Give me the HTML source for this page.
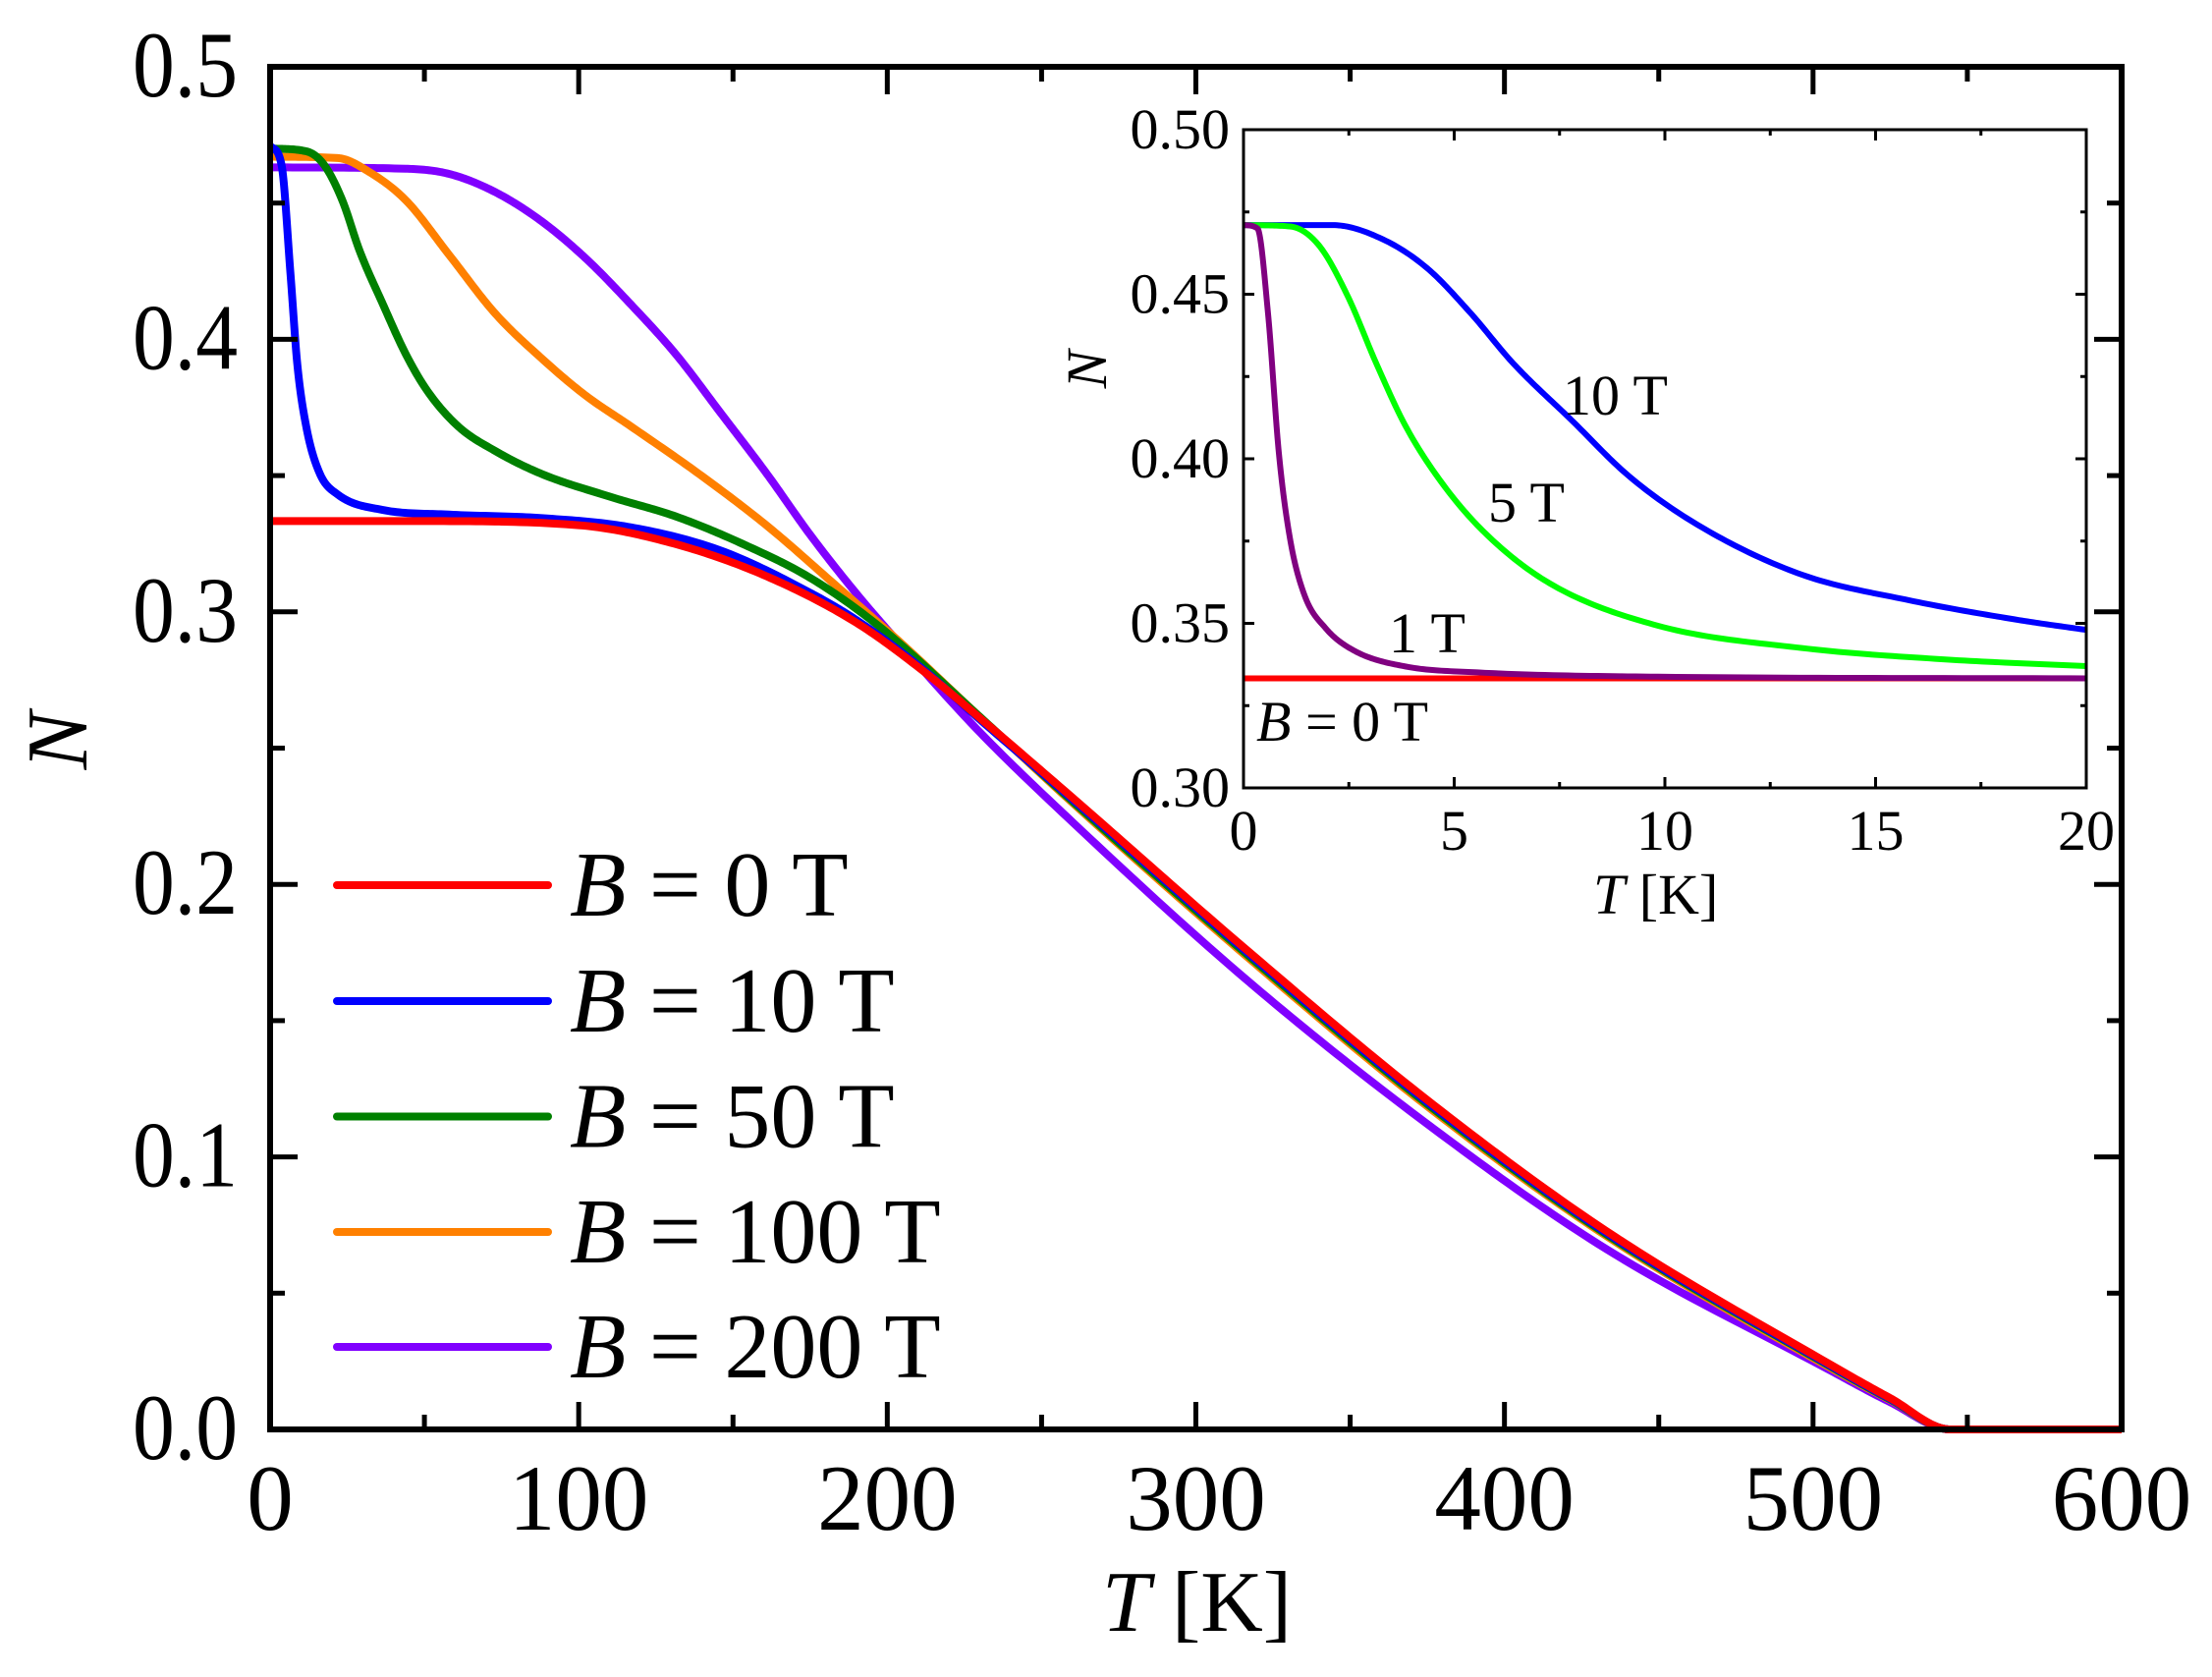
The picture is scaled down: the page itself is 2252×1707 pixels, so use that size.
<!DOCTYPE html>
<html><head><meta charset="utf-8"><style>
html,body{margin:0;padding:0;background:#fff;}
svg{display:block;font-family:"Liberation Serif",serif;}
</style></head><body>
<svg id="chart" width="2252" height="1707" viewBox="0 0 2252 1707" xmlns="http://www.w3.org/2000/svg">
<rect x="0" y="0" width="2252" height="1707" fill="#fff"/>
<g id="main"></g>
<g id="inset"></g>
</svg>
<script>
// ---------- main chart data ----------
const seriesLabels = ["B = 0 T","B = 10 T","B = 50 T","B = 100 T","B = 200 T"];
const seriesNames = ["b0","b10","b50","b100","b200"];
const seriesColors = ["#ff0000","#0000ff","#008000","#ff8000","#8000ff"];
const redT = [0,50,100,131,161,190,212,229,258,316,374.5,433,505,525,544.5,600];
const redN = [0.3333,0.3333,0.3318,0.325,0.313,0.296,0.278,0.262,0.2338,0.1764,0.1213,0.0728,0.0242,0.0115,0,0];
const blueT = [0,3.7,6.6,8.8,11.7,16,22,36.5,58,88,117,146,175,190,212,229,258,316,374.5,433,505,525,544.5];
const blueN = [0.471,0.464,0.424,0.391,0.368,0.351,0.343,0.3374,0.3357,0.3344,0.331,0.3225,0.307,0.297,0.2785,0.2615,0.2332,0.1757,0.1206,0.0722,0.0238,0.0112,0];
const greenT = [0,11.7,17.5,23.4,29,36.5,44,51,61,73,88,110,131.5,153,175,197,229,258,316,374.5,433,505,525,544.5];
const greenN = [0.470,0.469,0.464,0.451,0.4325,0.413,0.3945,0.381,0.368,0.359,0.3506,0.3423,0.335,0.325,0.3125,0.295,0.2625,0.2325,0.1748,0.1198,0.0716,0.0235,0.011,0];
const orangeT = [0,22,32,44,58,73,88,102,117,139,161,183,204.5,229,258,316,374.5,433,505,525,544.5];
const orangeN = [0.467,0.4665,0.4615,0.451,0.431,0.4094,0.393,0.3796,0.368,0.3506,0.3316,0.310,0.2885,0.2625,0.232,0.174,0.119,0.071,0.023,0.0108,0];
const purpleT = [0,44,58,73,88,102,117,131.5,146,161,175,190,204.5,229,258,316,374.5,433,505,525,544.5];
const purpleN = [0.4631,0.4626,0.4607,0.454,0.4433,0.430,0.4127,0.3945,0.373,0.3506,0.3283,0.3067,0.2877,0.257,0.225,0.1654,0.1125,0.0662,0.022,0.010,0];
const xTicks = [0,100,200,300,400,500,600];
const xTickLabels = ["0","100","200","300","400","500","600"];
const yTicks = [0,0.1,0.2,0.3,0.4,0.5];
const yTickLabels = ["0.0","0.1","0.2","0.3","0.4","0.5"];

// ---------- inset data ----------
const insetLabels = ["1 T","5 T","10 T"];
const inRedT = [0,20];
const inRedN = [0.3333,0.3333];
const in1T = [0,0.33,0.58,0.84,1.1,1.44,1.95,2.64,3.84,5.55,9.83,20];
const in1N = [0.471,0.470,0.4444,0.4016,0.376,0.3588,0.3485,0.3416,0.3369,0.3351,0.3338,0.3333];
const in5T = [0,1.1,1.78,2.47,3.15,3.84,4.69,5.72,7.26,9.83,13.25,16.7,20];
const in5N = [0.471,0.4706,0.465,0.4495,0.429,0.4101,0.393,0.3776,0.3622,0.3493,0.3425,0.339,0.337];
const in10T = [0,2.12,3.32,4.35,5.38,6.4,7.78,9.15,10.86,13.25,15.8,18.4,20];
const in10N = [0.471,0.471,0.4666,0.458,0.4444,0.429,0.4118,0.3947,0.3793,0.3648,0.357,0.351,0.348];
const inXTicks = [0,5,10,15,20];
const inXTickLabels = ["0","5","10","15","20"];
const inYTicks = [0.30,0.35,0.40,0.45,0.50];
const inYTickLabels = ["0.30","0.35","0.40","0.45","0.50"];

const NS = "http://www.w3.org/2000/svg";
function mk(parent, tag, attrs, text){
  const e = document.createElementNS(NS, tag);
  for (const k in attrs) e.setAttribute(k, attrs[k]);
  if (text !== undefined) e.textContent = text;
  parent.appendChild(e);
  return e;
}
// monotone cubic (Fritsch-Carlson) interpolation in data space, then mapped
function monoPath(X, Y, sx, sy){
  const n = X.length;
  const d = [], m = new Array(n);
  for (let i = 0; i < n-1; i++) d.push((Y[i+1]-Y[i])/(X[i+1]-X[i]));
  m[0] = d[0]; m[n-1] = d[n-2];
  for (let i = 1; i < n-1; i++) m[i] = (d[i-1]*d[i] <= 0) ? 0 : (d[i-1]+d[i])/2;
  for (let i = 0; i < n-1; i++){
    if (d[i] === 0){ m[i] = 0; m[i+1] = 0; continue; }
    const a = m[i]/d[i], b = m[i+1]/d[i], s = a*a + b*b;
    if (s > 9){ const t = 3/Math.sqrt(s); m[i] = t*a*d[i]; m[i+1] = t*b*d[i]; }
  }
  let path = "M" + sx(X[0]).toFixed(2) + "," + sy(Y[0]).toFixed(2);
  for (let i = 0; i < n-1; i++){
    const h = X[i+1]-X[i];
    for (let k = 1; k <= 24; k++){
      const t = k/24, t2 = t*t, t3 = t2*t;
      const v = (2*t3-3*t2+1)*Y[i] + (t3-2*t2+t)*h*m[i] + (-2*t3+3*t2)*Y[i+1] + (t3-t2)*h*m[i+1];
      path += " L" + sx(X[i]+t*h).toFixed(2) + "," + sy(v).toFixed(2);
    }
  }
  return path;
}

// ---------- main plot ----------
const M = {l:275, r:2160, t:68, b:1455};
const xs = v => M.l + (v - 0) / 600 * (M.r - M.l);
const ys = v => M.b - (v - 0) / 0.5 * (M.b - M.t);
const main = document.getElementById("main");

const mainSeries = [[redT,redN],[blueT,blueN],[greenT,greenN],[orangeT,orangeN],[purpleT,purpleN]];
const drawOrder = [4,3,2,1,0];
drawOrder.forEach(i => {
  const T = mainSeries[i][0].slice(), N = mainSeries[i][1].slice();
  if (T[T.length-1] < 600){ T.push(600); N.push(0); }
  const p = mk(main, "path", {d: monoPath(T, N, xs, ys), fill:"none", stroke: seriesColors[i], "stroke-width": 8, "stroke-linejoin":"round"});
  
  
});

// frame
const frame = mk(main, "rect", {x:M.l, y:M.t, width:M.r-M.l, height:M.b-M.t, fill:"none", stroke:"#000", "stroke-width":6});



// x ticks
for (let v = 0; v <= 600; v += 50){
  const major = v % 100 === 0;
  const L = major ? 28 : 15;
  const x = xs(v);
  const t1 = mk(main, "line", {x1:x, y1:M.b, x2:x, y2:M.b-L, stroke:"#000", "stroke-width":5});
  
  
  const t2 = mk(main, "line", {x1:x, y1:M.t, x2:x, y2:M.t+L, stroke:"#000", "stroke-width":5});
  
  
}
xTicks.forEach((v,i) => {
  const lab = mk(main, "text", {x: xs(v), y: 1557, "font-size": 95, "text-anchor":"middle"}, xTickLabels[i]);
  
  
});
// y ticks
for (let k = 0; k <= 10; k++){
  const v = k * 0.05;
  const major = k % 2 === 0;
  const L = major ? 28 : 15;
  const y = ys(v);
  const t1 = mk(main, "line", {x1:M.l, y1:y, x2:M.l+L, y2:y, stroke:"#000", "stroke-width":5});
  
  
  const t2 = mk(main, "line", {x1:M.r, y1:y, x2:M.r-L, y2:y, stroke:"#000", "stroke-width":5});
  
  
}
yTicks.forEach((v,i) => {
  const lab = mk(main, "text", {x: 242, y: ys(v) + 30, "font-size": 95, "text-anchor":"end", textLength: 107, lengthAdjust:"spacingAndGlyphs"}, yTickLabels[i]);
  
  
});
// axis titles
const xt = mk(main, "text", {x: 1122, y: 1660, "font-size": 88});


mk(xt, "tspan", {"font-style":"italic"}, "T");
mk(xt, "tspan", {}, " [K]");
const yt = mk(main, "text", {x: 0, y: 0, "font-size": 88, "font-style":"italic", "text-anchor":"middle", transform:"translate(88,754) rotate(-90)"}, "N");



// legend
const legendY = [901, 1019, 1136.5, 1254, 1371];
seriesLabels.forEach((lab,i) => {
  const g = mk(main, "g", {});
  
  
  const ln = mk(g, "line", {x1:343, y1:legendY[i], x2:558, y2:legendY[i], stroke:seriesColors[i], "stroke-width":8, "stroke-linecap":"round"});
  
  
  const tx = mk(g, "text", {x:580, y:legendY[i]+31, "font-size":94});
  
  
  mk(tx, "tspan", {"font-style":"italic"}, "B");
  mk(tx, "tspan", {}, lab.slice(1));
});

// ---------- inset ----------
const I = {l:1266, r:2124, t:132, b:802};
const ixs = v => I.l + v / 20 * (I.r - I.l);
const iys = v => I.b - (v - 0.30) / 0.20 * (I.b - I.t);
const inset = document.getElementById("inset");
const ibg = mk(inset, "rect", {x:I.l, y:I.t, width:I.r-I.l, height:I.b-I.t, fill:"#fff"});


const inSeries = [[inRedT,inRedN,"#ff0000","inset-line-0t"],[in10T,in10N,"#0000ff","inset-line-10t"],[in5T,in5N,"#00ff00","inset-line-5t"],[in1T,in1N,"#800080","inset-line-1t"]];
inSeries.forEach(s => {
  const p = mk(inset, "path", {d: monoPath(s[0], s[1], ixs, iys), fill:"none", stroke:s[2], "stroke-width":6});
  
  
});
const iframe = mk(inset, "rect", {x:I.l, y:I.t, width:I.r-I.l, height:I.b-I.t, fill:"none", stroke:"#000", "stroke-width":3});


for (let k = 0; k <= 8; k++){
  const v = k * 2.5, L = k % 2 === 0 ? 11 : 6, x = ixs(v);
  const a = mk(inset, "line", {x1:x, y1:I.b, x2:x, y2:I.b-L, stroke:"#000", "stroke-width":3});
  
  
  const b = mk(inset, "line", {x1:x, y1:I.t, x2:x, y2:I.t+L, stroke:"#000", "stroke-width":3});
  
  
}
for (let k = 0; k <= 8; k++){
  const v = 0.30 + k * 0.025, L = k % 2 === 0 ? 11 : 6, y = iys(v);
  const a = mk(inset, "line", {x1:I.l, y1:y, x2:I.l+L, y2:y, stroke:"#000", "stroke-width":3});
  
  
  const b = mk(inset, "line", {x1:I.r, y1:y, x2:I.r-L, y2:y, stroke:"#000", "stroke-width":3});
  
  
}
inXTicks.forEach((v,i) => {
  const t = mk(inset, "text", {x: ixs(v), y: 865, "font-size": 58, "text-anchor":"middle"}, inXTickLabels[i]);
  
  
});
inYTicks.forEach((v,i) => {
  const t = mk(inset, "text", {x: 1252, y: iys(v) + 19, "font-size": 58, "text-anchor":"end"}, inYTickLabels[i]);
  
  
});
const ixt = mk(inset, "text", {x: 1622, y: 930, "font-size": 58});


mk(ixt, "tspan", {"font-style":"italic"}, "T");
mk(ixt, "tspan", {}, " [K]");
const iyt = mk(inset, "text", {x:0, y:0, "font-size":58, "font-style":"italic", "text-anchor":"middle", transform:"translate(1126,376) rotate(-90)"}, "N");


// annotations
const annX = [1414, 1515, 1591];
const annY = [664, 531, 422];
insetLabels.forEach((lab,i) => {
  const t = mk(inset, "text", {x: annX[i], y: annY[i], "font-size": 58}, lab);
  
  
});
const a0 = mk(inset, "text", {x: 1279, y: 754, "font-size": 58});


mk(a0, "tspan", {"font-style":"italic"}, "B");
mk(a0, "tspan", {}, " = 0 T");
</script>
</body></html>
